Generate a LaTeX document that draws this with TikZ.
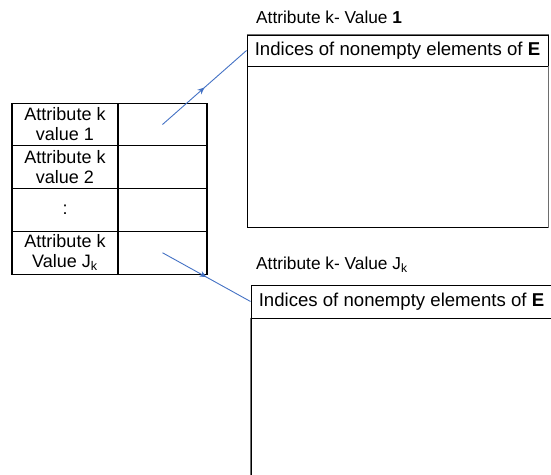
\documentclass[tikz,border=0pt]{standalone}
\usepackage{fontspec}
\setmainfont{Liberation Sans}
\usetikzlibrary{arrows.meta,decorations.markings}
\definecolor{linkblue}{RGB}{68,114,196}
\definecolor{edgegray}{RGB}{110,110,110}

\begin{document}
\begin{tikzpicture}[x=1pt,y=-1pt,
  cell/.style={draw=black, line width=1.1pt, inner sep=0pt, align=center,
    minimum height=42.75pt, font=\fontsize{18}{20}\selectfont},
  namecell/.style={cell, minimum width=106pt},
  slotcell/.style={cell, minimum width=89pt},
  header/.style={draw=black, line width=1pt, inner sep=0pt,
    minimum width=301pt, font=\fontsize{18.6}{21}\selectfont},
  body/.style={draw=black, line width=1pt, inner sep=0pt,
    minimum width=301pt},
  title/.style={anchor=west, inner sep=0pt, font=\fontsize{17.3}{20}\selectfont},
  link/.style={draw=linkblue, line width=0.9pt,
    postaction={decorate},
    decoration={markings, mark=at position 0.5 with {\arrow[linkblue]{Stealth[length=7pt,width=6pt]}}}}
]
\useasboundingbox (0,0) rectangle (551,474);
\clip (0,0) rectangle (551,474);

% lookup table: attribute values and their pointer slots
\node[namecell] (l1) at (65,124.5)   {Attribute k\\value 1};
\node[namecell] (l2) at (65,167.25)  {Attribute k\\value 2};
\node[namecell] (l3) at (65,210)     {:};
\node[namecell] (l4) at (65,252.75)  {Attribute k\\Value J\textsubscript{k}};
\node[slotcell] (r1) at (162.5,124.5)  {};
\node[slotcell] (r2) at (162.5,167.25) {};
\node[slotcell] (r3) at (162.5,210)    {};
\node[slotcell] (r4) at (162.5,252.75) {};

% index list for value 1
\node[title] (t1) at (256,17) {Attribute k- Value \textbf{1}};
\node[header, minimum height=31pt] (h1) at (397.5,50.5) {Indices of nonempty elements of \textbf{E}};
\node[body, minimum height=161pt] (b1) at (397.5,146.5) {};
\draw[edgegray, line width=1.6pt] (b1.north east) -- (b1.south east);
\draw[edgegray, line width=1pt] (h1.north west) -- (h1.north east);

% index list for value J_k
\node[title] (t2) at (256,265) {Attribute k- Value J\textsubscript{k}};
\node[header, minimum height=33pt] (h2) at (401.5,301.5) {Indices of nonempty elements of \textbf{E}};
\node[body, minimum height=159pt] (b2) at (401.5,397.5) {};
\draw[edgegray, line width=1.6pt] (b2.north west) -- (b2.south west);

% pointers from the table slots to the lists
\draw[link] (r1.center) -- (h1.west);
\draw[link] (r4.center) -- (h2.west);
\end{tikzpicture}
\end{document}
